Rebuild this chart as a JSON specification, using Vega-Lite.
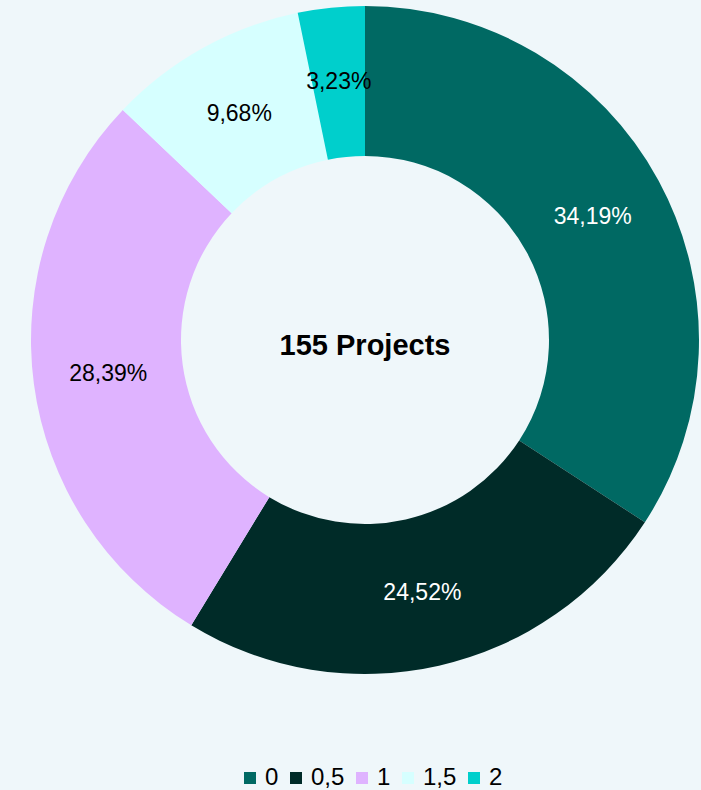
{
  "$schema": "https://vega.github.io/schema/vega-lite/v6.json",
  "width": 670,
  "height": 668,
  "autosize": {"type": "none"},
  "padding": {"left": 30, "top": 6, "right": 1, "bottom": 116},
  "background": "#eff7fa",
  "config": {
    "view": {"stroke": null},
    "font": "Liberation Sans",
    "locale": {"number": {"decimal": ",", "thousands": ".", "grouping": [3], "currency": ["", ""]}}
  },
  "data": {
    "values": [
      {"grade": "0", "share": 0.3419},
      {"grade": "0,5", "share": 0.2452},
      {"grade": "1", "share": 0.2839},
      {"grade": "1,5", "share": 0.0968},
      {"grade": "2", "share": 0.0323}
    ]
  },
  "layer": [
    {
      "mark": {"type": "arc", "outerRadius": 334, "innerRadius": 184},
      "encoding": {
        "theta": {"field": "share", "type": "quantitative", "stack": true},
        "order": {"field": "grade", "type": "ordinal", "sort": "ascending"},
        "color": {
          "field": "grade",
          "type": "nominal",
          "scale": {
            "domain": ["0", "0,5", "1", "1,5", "2"],
            "range": ["#006963", "#002b28", "#dfb3ff", "#d6ffff", "#00cfcc"]
          },
          "legend": {
            "title": null,
            "orient": "none",
            "legendX": 208,
            "legendY": 760,
            "direction": "horizontal",
            "symbolType": "square",
            "symbolSize": 144,
            "symbolStrokeWidth": 0,
            "labelFontSize": 24,
            "labelColor": "#000000",
            "labelFont": "Liberation Sans",
            "columnPadding": 5,
            "labelOffset": 3
          }
        }
      }
    },
    {
      "mark": {"type": "text", "radius": 259, "fontSize": 23, "font": "Liberation Sans"},
      "encoding": {
        "theta": {"field": "share", "type": "quantitative", "stack": true},
        "order": {"field": "grade", "type": "ordinal", "sort": "ascending"},
        "text": {"field": "share", "type": "quantitative", "format": ".2%"},
        "color": {
          "condition": {"test": "datum.grade === '0' || datum.grade === '0,5'", "value": "#ffffff"},
          "value": "#000000"
        }
      }
    },
    {
      "data": {"values": [{"label": "155 Projects"}]},
      "mark": {"type": "text", "fontSize": 29, "fontWeight": "bold", "font": "Liberation Sans", "color": "#000000", "dy": 6},
      "encoding": {
        "text": {"field": "label", "type": "nominal"}
      }
    }
  ]
}
